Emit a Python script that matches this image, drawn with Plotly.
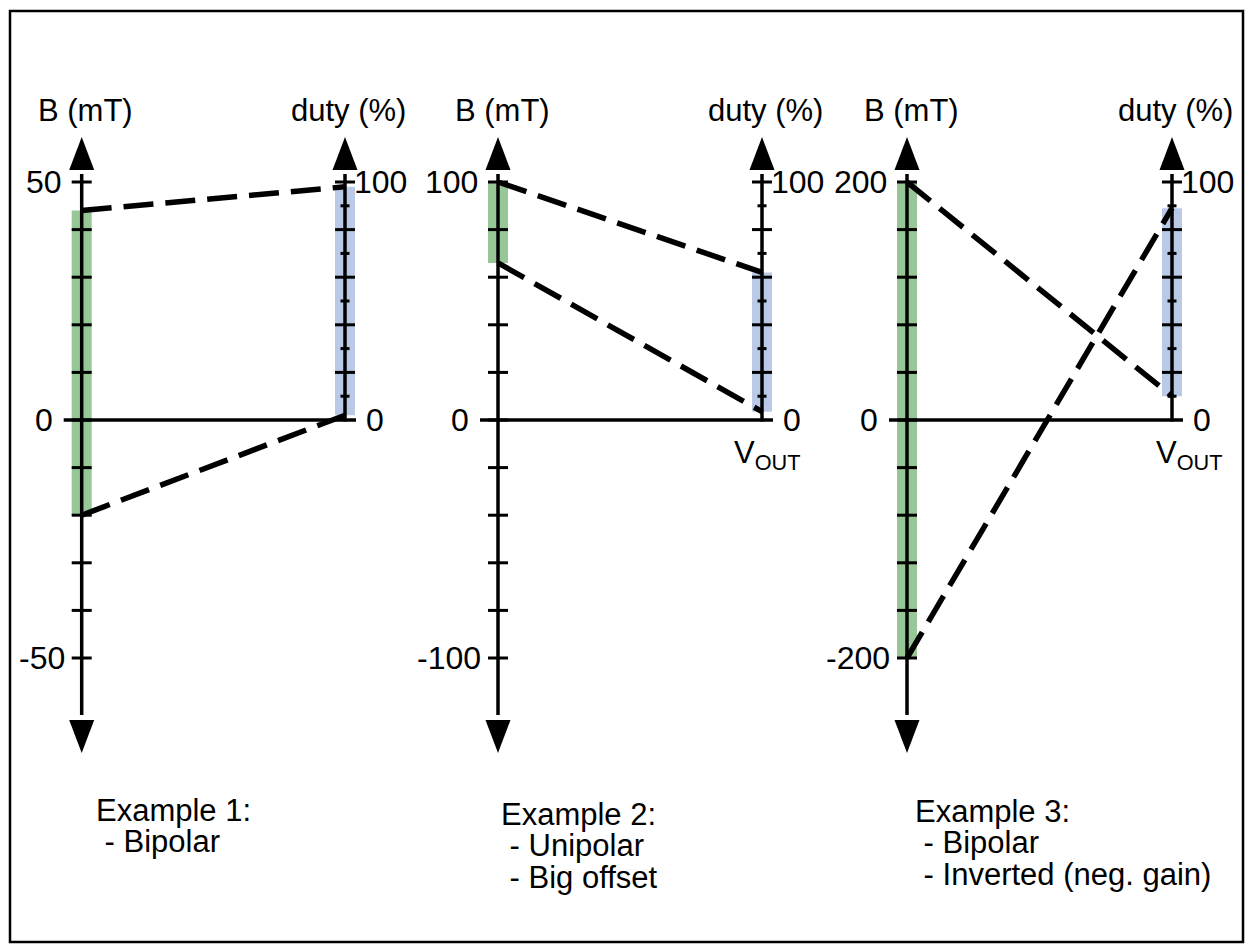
import plotly.graph_objects as go

# ---------------- data ----------------
b_top_tick = [50, 100, 200]          # mT value of the top labelled tick
b_tick_step = [10, 20, 40]           # mT between ticks on the B axis
b_label_vals = [[50, 0, -50], [100, 0, -100], [200, 0, -200]]
duty_major_ticks = [20, 40, 60, 80, 100]
duty_minor_ticks = [10, 30, 50, 70, 90]
duty_label_vals = [100, 0]
green_low = [-20, 66, -200]          # B range used (mT)
green_high = [44, 100, 200]
blue_low = [2, 3.5, 10]              # duty range used (%)
blue_high = [98, 62, 89]
gain_inverted = [False, False, True]
left_title = "B (mT)"
right_title = "duty (%)"
x_label = "V<sub>OUT</sub>"
show_x_label = [False, True, True]
notes = [
    ["Example 1:", "\u00a0- Bipolar"],
    ["Example 2:", "\u00a0- Unipolar", "\u00a0- Big offset"],
    ["Example 3:", "\u00a0- Bipolar", "\u00a0- Inverted (neg. gain)"],
]

# ---------------- geometry / style ----------------
FW, FH = 1246, 945
AX_L = [81.7, 498, 907]
AX_R = [345, 762, 1172]
ZERO_PX = 420
TOP_PX = 182
PLOT_TOP, PLOT_BOT = 110, 790
PAD = 45
ARROW_TIP_TOP, ARROW_BASE_TOP = 137, 170
ARROW_BASE_BOT, ARROW_TIP_BOT = 719, 753
VOUT_DX = [0, 5, 17]
NOTE_X = [94, 499, 913]
NOTE_BASE = [821, 825, 822]
NOTE_STEP = 31.5

GREEN = "#97C797"
BLUE = "#BACAE6"
FONT = "Liberation Sans, Arial, sans-serif"
FS = 31
TFS = 32
AXW = 3.5
TKW = 3

fig = go.Figure()
layout = dict(
    width=FW, height=FH, margin=dict(l=0, r=0, t=0, b=0),
    paper_bgcolor="white", plot_bgcolor="rgba(0,0,0,0)",
    showlegend=False, barmode="overlay",
    font=dict(family=FONT, size=FS, color="black"),
)
shapes = []
annotations = []

for i in range(3):
    xa = "x" if i == 0 else f"x{i + 1}"
    yb = "y" if i == 0 else f"y{2 * i + 1}"
    yd = f"y{2 * i + 2}"
    L, R = AX_L[i], AX_R[i]
    W = R - L
    T = b_top_tick[i]
    sb = (ZERO_PX - TOP_PX) / T
    sd = (ZERO_PX - TOP_PX) / 100.0

    def b_of(px, sb=sb):
        return (ZERO_PX - px) / sb

    def d_of(px, sd=sd):
        return (ZERO_PX - px) / sd

    bar_w = 20.0 / W
    common = dict(showlegend=False, hoverinfo="skip")

    # axes definitions
    layout["xaxis" if i == 0 else f"xaxis{i + 1}"] = dict(
        domain=[(L - PAD) / FW, (R + PAD) / FW],
        range=[-PAD / W, 1 + PAD / W], visible=False, fixedrange=True,
        anchor=yb)
    layout["yaxis" if i == 0 else f"yaxis{2 * i + 1}"] = dict(
        domain=[1 - PLOT_BOT / FH, 1 - PLOT_TOP / FH],
        range=[b_of(PLOT_BOT), b_of(PLOT_TOP)], visible=False,
        fixedrange=True, anchor=xa)
    layout[f"yaxis{2 * i + 2}"] = dict(
        overlaying=yb, range=[d_of(PLOT_BOT), d_of(PLOT_TOP)],
        visible=False, fixedrange=True, anchor=xa)

    # ---- B side (left) ----
    fig.add_trace(go.Bar(
        x=[0], base=[green_low[i]], y=[green_high[i] - green_low[i]],
        width=[bar_w], offset=-bar_w / 2,
        marker=dict(color=GREEN, line=dict(width=0)),
        xaxis=xa, yaxis=yb, **common))
    fig.add_trace(go.Scatter(
        x=[-18.0 / W, 1 + 11.0 / W], y=[0, 0], mode="lines",
        line=dict(color="black", width=AXW), xaxis=xa, yaxis=yb, **common))
    fig.add_trace(go.Scatter(
        x=[0, 0], y=[b_of(ARROW_BASE_BOT - 4), b_of(ARROW_BASE_TOP + 4)],
        mode="lines", line=dict(color="black", width=AXW),
        xaxis=xa, yaxis=yb, **common))
    b_ticks = list(range(-T, T + 1, b_tick_step[i]))
    fig.add_trace(go.Scatter(
        x=[0] * len(b_ticks), y=b_ticks, mode="markers",
        marker=dict(symbol="line-ew", size=20 / 1.4,
                    line=dict(color="black", width=TKW)),
        cliponaxis=False, xaxis=xa, yaxis=yb, **common))

    # ---- duty side (right) ----
    fig.add_trace(go.Bar(
        x=[1], base=[blue_low[i]], y=[blue_high[i] - blue_low[i]],
        width=[bar_w], offset=-bar_w / 2,
        marker=dict(color=BLUE, line=dict(width=0)),
        xaxis=xa, yaxis=yd, **common))
    fig.add_trace(go.Scatter(
        x=[1, 1], y=[d_of(ZERO_PX + 1.5), d_of(ARROW_BASE_TOP + 4)],
        mode="lines", line=dict(color="black", width=AXW),
        xaxis=xa, yaxis=yd, **common))
    fig.add_trace(go.Scatter(
        x=[1] * len(duty_major_ticks), y=duty_major_ticks, mode="markers",
        marker=dict(symbol="line-ew", size=20 / 1.4,
                    line=dict(color="black", width=TKW)),
        cliponaxis=False, xaxis=xa, yaxis=yd, **common))
    fig.add_trace(go.Scatter(
        x=[1] * len(duty_minor_ticks), y=duty_minor_ticks, mode="markers",
        marker=dict(symbol="line-ew", size=9 / 1.4,
                    line=dict(color="black", width=TKW)),
        cliponaxis=False, xaxis=xa, yaxis=yd, **common))

    # ---- transfer lines (B mapped to duty scale) ----
    to_d = 100.0 / T
    if gain_inverted[i]:
        pairs = [(green_high[i], blue_low[i]), (green_low[i], blue_high[i])]
    else:
        pairs = [(green_high[i], blue_high[i]), (green_low[i], blue_low[i])]
    for bv, dv in pairs:
        fig.add_trace(go.Scatter(
            x=[0, 1], y=[bv * to_d, dv], mode="lines",
            line=dict(color="black", width=5.5, dash="30px,12px"),
            xaxis=xa, yaxis=yd, **common))

    # ---- arrow heads ----
    for xv, yref, yv, up in [
        (0, yb, b_of(ARROW_TIP_TOP), True),
        (0, yb, b_of(ARROW_TIP_BOT), False),
        (1, yd, d_of(ARROW_TIP_TOP), True),
    ]:
        path = "M0,0 L-12.5,-33 L12.5,-33 Z" if up else "M0,0 L-12.5,33 L12.5,33 Z"
        shapes.append(dict(
            type="path", xref=xa, yref=yref, xsizemode="pixel",
            ysizemode="pixel", xanchor=xv, yanchor=yv, path=path,
            fillcolor="black", line=dict(width=0), layer="above"))

    # ---- tick labels ----
    left_dx = [-20, -29, -17]
    for v, dx in zip(b_label_vals[i], left_dx):
        annotations.append(dict(
            x=0, y=v, xref=xa, yref=yb, text=str(v), showarrow=False,
            xanchor="right", yanchor="middle", xshift=dx + 2,
            font=dict(size=TFS)))
    right_dx = [10, 22]
    for v, dx in zip(duty_label_vals, right_dx):
        annotations.append(dict(
            x=1, y=v, xref=xa, yref=yd, text=str(v), showarrow=False,
            xanchor="left", yanchor="middle", xshift=dx - 3,
            font=dict(size=TFS)))

    # ---- axis titles ----
    annotations.append(dict(
        x=0, y=d_of(110) * T / 100.0, xref=xa, yref=yb, text=left_title,
        showarrow=False, xanchor="center", yanchor="middle", xshift=4))
    annotations.append(dict(
        x=1, y=d_of(110), xref=xa, yref=yd, text=right_title,
        showarrow=False, xanchor="center", yanchor="middle", xshift=3))
    if show_x_label[i]:
        annotations.append(dict(
            x=1, y=d_of(455), xref=xa, yref=yd, text=x_label,
            showarrow=False, xanchor="center", yanchor="middle",
            xshift=VOUT_DX[i]))

    # ---- notes ----
    for k, line in enumerate(notes[i]):
        base = NOTE_BASE[i] + k * NOTE_STEP
        annotations.append(dict(
            x=NOTE_X[i] / FW, y=1 - (base - 0.35 * FS) / FH,
            xref="paper", yref="paper", text=line, showarrow=False,
            xanchor="left", yanchor="middle"))

# border
shapes.append(dict(type="rect", xref="paper", yref="paper",
                   x0=10 / FW, x1=1243 / FW, y0=1 - 942 / FH, y1=1 - 11 / FH,
                   line=dict(color="black", width=2.5), fillcolor="rgba(0,0,0,0)"))

layout["shapes"] = shapes
layout["annotations"] = annotations
fig.update_layout(**layout)

fig.write_html("out.html", config={"displayModeBar": False},
               post_script="document.body.style.margin='0';document.body.style.overflow='hidden';")
